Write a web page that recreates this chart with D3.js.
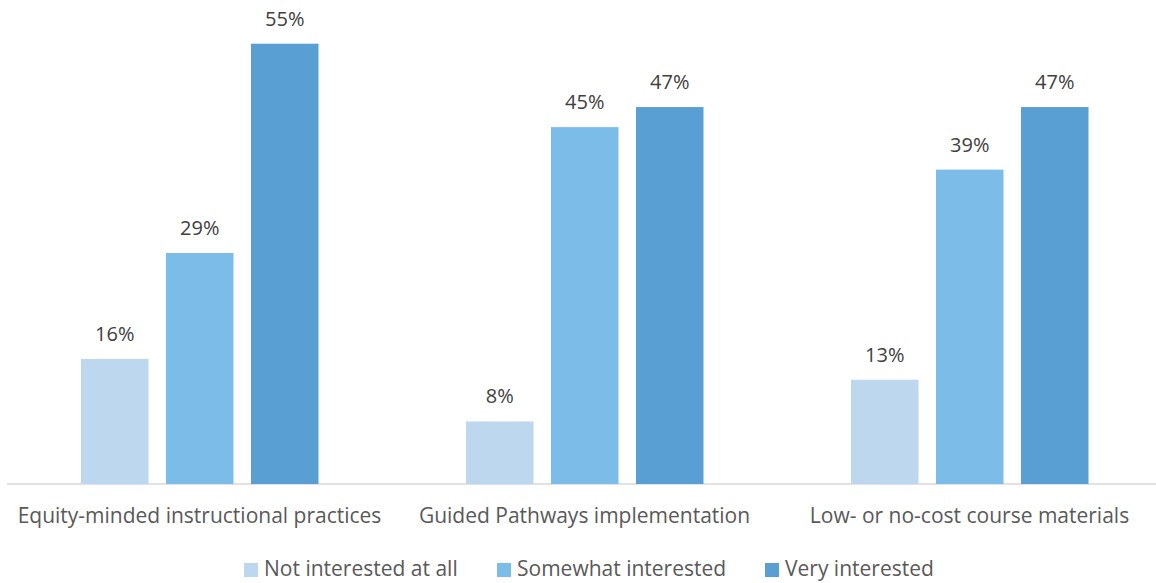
<!DOCTYPE html>
<html>
<head>
    <meta charset="utf-8">
    <style>
        body { margin: 0; background: #fff; }
        svg { font-family: 'Open Sans', 'Noto Sans', sans-serif; }
    </style>
</head>
<body>
<svg width="1156" height="583"></svg>
<script src="https://d3js.org/d3.v7.min.js"></script>
<script>
    // chart data (bar heights, labels are rounded)
    let categories = ["Equity-minded instructional practices", "Guided Pathways implementation", "Low- or no-cost course materials"];
    let series = ["Not interested at all", "Somewhat interested", "Very interested"];
    let notInterested = [15.6, 7.8, 13.0];
    let somewhatInterested = [28.8, 44.5, 39.2];
    let veryInterested = [54.9, 47.0, 47.0];
    let colors = ["#BDD7EE", "#7BBDE8", "#5A9FD4"];

    let values = [notInterested, somewhatInterested, veryInterested];

    let svg = d3.select("svg");
    let width = 1156;

    let x0 = d3.scaleBand()
        .domain(categories)
        .range([7, 1162]);

    let x1 = d3.scaleBand()
        .domain(series)
        .range([74, 311.5])
        .paddingInner(0.206);

    let y = d3.scaleLinear()
        .domain([0, 60])
        .range([484, 2.8]);

    // axis line
    svg.append("line")
        .attr("x1", 7)
        .attr("x2", width)
        .attr("y1", y(0))
        .attr("y2", y(0))
        .style("stroke", "#D9D9D9")
        .style("stroke-width", 1.5);

    let groups = svg.selectAll(".group")
        .data(categories)
        .join("g")
        .attr("class", "group")
        .attr("transform", d => "translate(" + x0(d) + ",0)");

    groups.selectAll("rect")
        .data((d, i) => series.map((s, j) => ({ s: s, v: values[j][i], c: colors[j] })))
        .join("rect")
        .attr("x", d => x1(d.s))
        .attr("width", x1.bandwidth())
        .attr("y", d => y(d.v))
        .attr("height", d => y(0) - y(d.v))
        .style("fill", d => d.c);

    groups.selectAll(".val")
        .data((d, i) => series.map((s, j) => ({ s: s, v: values[j][i] })))
        .join("text")
        .attr("class", "val")
        .attr("x", d => x1(d.s) + x1.bandwidth() / 2)
        .attr("y", d => y(d.v) - 18)
        .attr("text-anchor", "middle")
        .style("font-size", "20px")
        .style("fill", "#404040")
        .text(d => Math.round(d.v) + "%");

    // category labels
    svg.selectAll(".cat")
        .data(categories)
        .join("text")
        .attr("class", "cat")
        .attr("x", d => x0(d) + x0.bandwidth() / 2)
        .attr("y", 523)
        .attr("text-anchor", "middle")
        .style("font-size", "21px")
        .style("fill", "#595959")
        .text(d => d);

    // legend
    let legendX = [244, 497, 765];
    let legend = svg.selectAll(".leg")
        .data(series)
        .join("g")
        .attr("class", "leg")
        .attr("transform", (d, i) => "translate(" + legendX[i] + ",563)");

    legend.append("rect")
        .attr("width", 14)
        .attr("height", 14)
        .style("fill", (d, i) => colors[i]);

    legend.append("text")
        .attr("x", 20)
        .attr("y", 13)
        .style("font-size", "21px")
        .style("fill", "#595959")
        .text(d => d);
</script>
</body>
</html>
